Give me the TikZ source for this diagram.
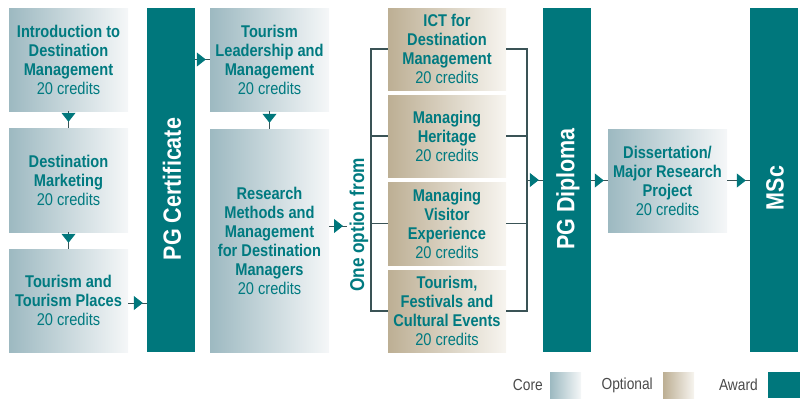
\documentclass[tikz,border=0pt]{standalone}
\usepackage{fontspec}
\setmainfont{Liberation Sans}[FakeStretch=0.86]
\usetikzlibrary{arrows.meta,decorations.markings}
\definecolor{awardc}{HTML}{00777C}
\definecolor{textc}{HTML}{007A80}
\definecolor{coreL}{HTML}{9DB9C1}
\definecolor{coreR}{HTML}{F5F7F8}
\definecolor{optL}{HTML}{BDAF94}
\definecolor{optR}{HTML}{F7F5F0}
\definecolor{linec}{HTML}{3A5356}
\definecolor{legtext}{HTML}{4A4A4A}
\newcommand{\credline}{{\mdseries 20 credits}}
\tikzset{
  box/.style={inner sep=0pt, align=center, text=textc, font=\fontsize{17}{19}\selectfont\bfseries, minimum width=119pt},
  corebox/.style={box, left color=coreL, right color=coreR},
  optbox/.style={box, left color=optL, right color=optR, minimum width=118pt},
  bar/.style={fill=awardc, inner sep=0pt, minimum width=48pt, minimum height=344pt},
  bartext/.style={rotate=90, text=white, font=\fontsize{25}{30}\selectfont\bfseries, inner sep=0pt},
  flow/.style={draw=linec, line width=0.8pt, postaction={decorate},
    decoration={markings, mark=at position #1 with {\arrow[color=awardc]{Triangle[length=9pt,width=14pt]}}}},
  flow/.default=-4pt,
  bracketline/.style={draw=linec, line width=1.1pt},
  legendtext/.style={anchor=east, text=legtext, font=\fontsize{16}{18}\selectfont, inner sep=0pt},
  swatch/.style={inner sep=0pt, minimum width=31pt, minimum height=26pt, anchor=west}
}
\begin{document}
\begin{tikzpicture}[x=1pt,y=-1pt]
\useasboundingbox (0,0) rectangle (801,399);
% core column 1
\node[corebox, minimum height=103pt] (c1) at (68.5,59.5) {Introduction to\\Destination\\Management\\\credline};
\node[corebox, minimum height=104pt] (c2) at (68.5,180) {Destination\\Marketing\\\credline};
\node[corebox, minimum height=103pt] (c3) at (68.5,300.5) {Tourism and\\Tourism Places\\\credline};
% PG certificate
\node[bar] (pgc) at (171,180) {};
\node[bartext] (pgct) at (172,189) {PG Certificate};
% column 2
\node[corebox, minimum height=103pt] (tl) at (269.5,59.5) {Tourism\\Leadership and\\Management\\\credline};
\node[corebox, minimum height=223pt] (rm) at (269.5,240.5) {Research\\Methods and\\Management\\for Destination\\Managers\\\credline};
% options
\node[optbox, minimum height=82pt] (o1) at (447,49) {ICT for\\Destination\\Management\\\credline};
\node[optbox, minimum height=82pt] (o2) at (447,136) {Managing\\Heritage\\\credline};
\node[optbox, minimum height=83pt] (o3) at (447,223.5) {Managing\\Visitor\\Experience\\\credline};
\node[optbox, minimum height=82pt] (o4) at (447,311) {Tourism,\\Festivals and\\Cultural Events\\\credline};
\node[rotate=90, text=textc, font=\fontsize{20}{24}\selectfont\bfseries, inner sep=0pt] (oneopt) at (359,225) {One option from};
% PG diploma, dissertation, MSc
\node[bar] (pgd) at (567,180) {};
\node[bartext] (pgdt) at (568,189) {PG Diploma};
\node[corebox, minimum height=103pt] (diss) at (667.5,180.5) {Dissertation/\\Major Research\\Project\\\credline};
\node[bar] (msc) at (774,180) {};
\node[bartext] (msct) at (775,188) {MSc};
% brackets
\coordinate (bl) at (371,0);
\coordinate (br) at (527,0);
\draw[bracketline] (o1.west) -- (o1.west -| bl) -- (o4.west -| bl) -- (o4.west);
\draw[bracketline] (o2.west) -- (o2.west -| bl);
\draw[bracketline] (o3.west) -- (o3.west -| bl);
\draw[bracketline] (o1.east) -- (o1.east -| br) -- (o4.east -| br) -- (o4.east);
\draw[bracketline] (o2.east) -- (o2.east -| br);
\draw[bracketline] (o3.east) -- (o3.east -| br);
% arrows
\draw[flow=-6pt] (c1.south) -- (c2.north);
\draw[flow=-6pt] (c2.south) -- (c3.north);
\draw[flow] (c3.east |- 0,303) -- (pgc.west |- 0,303);
\draw[flow] (pgc.east |- tl.west) -- (tl.west);
\draw[flow=-6pt] (tl.south) -- (rm.north);
\coordinate (optin) at (347,226);
\draw[flow] (rm.east |- optin) -- (optin);
\draw[flow] (br |- pgd.west) -- (pgd.west);
\draw[flow] (pgd.east |- diss.west) -- (diss.west);
\draw[flow] (diss.east) -- (diss.east -| msc.west);
% legend
\node[legendtext] (lcore) at (543,385) {Core};
\node[swatch, left color=coreL, right color=coreR] (score) at (550,385) {};
\node[legendtext] (lopt) at (653,385) {Optional};
\node[swatch, left color=optL, right color=optR] (sopt) at (663,385) {};
\node[legendtext] (laward) at (758,385) {Award};
\node[swatch, fill=awardc, minimum width=32pt] (saward) at (768,385) {};
\end{tikzpicture}
\end{document}
